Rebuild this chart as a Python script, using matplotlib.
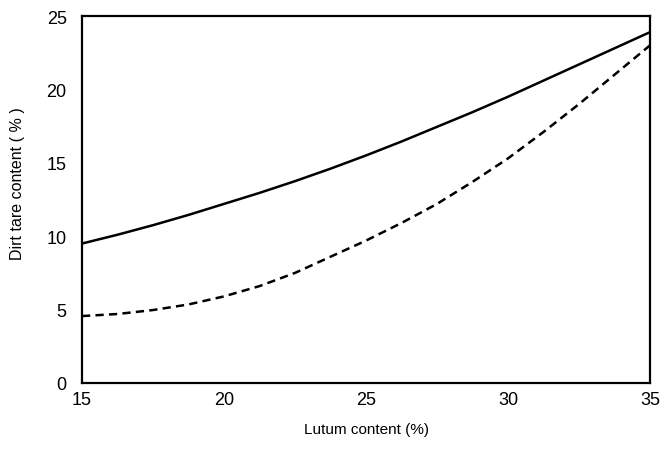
import matplotlib
matplotlib.use("Agg")
import matplotlib.pyplot as plt

plt.rcParams['font.family'] = ['Liberation Sans', 'DejaVu Sans']

# Lutum content (%) and the two dirt tare curves (%)
lutum = [15, 16.25, 17.5, 18.75, 20, 21.25, 22.5, 23.75, 25,
         26.25, 27.5, 28.75, 30, 31.25, 32.5, 33.75, 35]
tare_solid = [9.5, 10.1, 10.75, 11.45, 12.2, 12.95, 13.75, 14.6, 15.5,
              16.45, 17.45, 18.45, 19.5, 20.6, 21.7, 22.8, 23.9]
tare_dashed = [4.56, 4.7, 4.97, 5.35, 5.9, 6.6, 7.5, 8.6, 9.7,
               10.9, 12.2, 13.7, 15.3, 17.1, 19.0, 21.0, 23.0]

x_ticks = [15, 20, 25, 30, 35]
y_ticks = [0, 5, 10, 15, 20, 25]

fig = plt.figure(figsize=(6.62, 4.64), dpi=100)
ax = fig.add_axes([82 / 662, 1 - 384 / 464, (650 - 82) / 662, (384 - 17) / 464])

ax.plot(lutum, tare_solid, color='black', lw=1.8, solid_capstyle='butt')
ax.plot(lutum, tare_dashed, color='black', lw=1.8, linestyle=(0, (3.3, 2.1)))

ax.set_xlim(15, 35)
ax.set_ylim(0, 25)
ax.set_xticks(x_ticks)
ax.set_yticks(y_ticks)
ax.tick_params(length=0, labelsize=13)
ax.tick_params(axis='y', pad=11)
ax.tick_params(axis='x', pad=6)

for s in ax.spines.values():
    s.set_linewidth(1.6)

ax.set_xlabel('Lutum content (%)', fontsize=11)
ax.xaxis.set_label_coords(0.5, -0.105)
ax.set_ylabel('Dirt tare content ( % )', fontsize=11.5)
ax.yaxis.set_label_coords(-0.1, 0.545)

fig.savefig('out.png', dpi=100)
